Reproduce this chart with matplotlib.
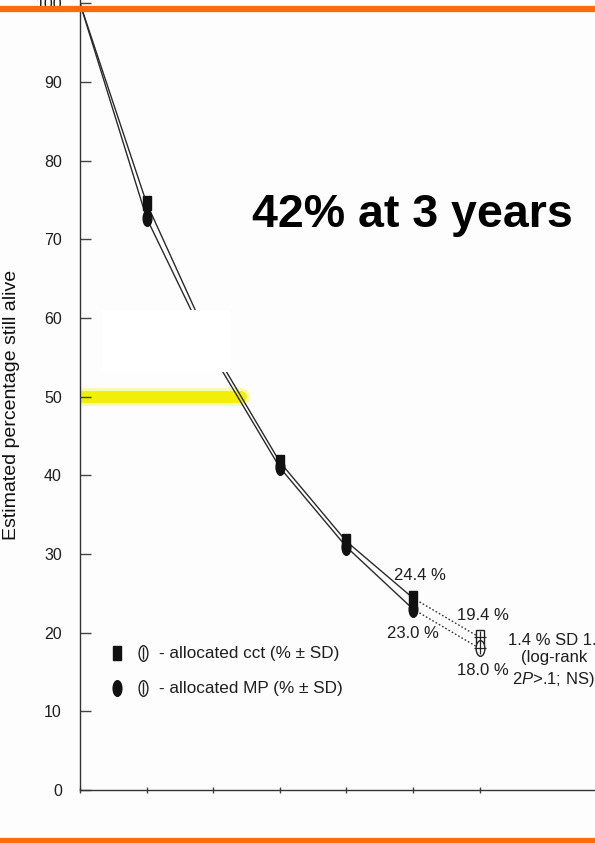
import numpy as np
import matplotlib
matplotlib.use("Agg")
import matplotlib.pyplot as plt
from matplotlib.markers import MarkerStyle
from matplotlib.transforms import Affine2D
from matplotlib.patches import Rectangle

plt.rcParams['font.family'] = ['Liberation Sans Narrow', 'Liberation Sans', 'DejaVu Sans']
plt.rcParams['mathtext.fontset'] = 'custom'
plt.rcParams['mathtext.it'] = 'Liberation Sans:italic'
plt.rcParams['mathtext.rm'] = 'Liberation Sans'

# survival at each time point (x = follow-up interval)
times = [0, 1, 2, 3, 4, 5]
cct = [100, 74.6, 56.0, 41.7, 31.6, 24.4]
mp = [100, 72.7, 55.2, 41.0, 30.9, 23.0]
# last (dotted) step
t_last = [5, 6]
cct_last = [24.4, 19.4]
mp_last = [23.0, 18.0]

yticks = [0, 10, 20, 30, 40, 50, 60, 70, 80, 90, 100]
xticks = [0, 1, 2, 3, 4, 5, 6]

ink = '#1e1e1e'
orange = '#ff6a0d'

fig = plt.figure(figsize=(5.95, 8.43), dpi=100)
fig.patch.set_facecolor('#fdfdfd')
ax = fig.add_axes([80 / 595, 53 / 843, 1 - 80 / 595, 790 / 843])
ax.set_facecolor('none')
ax.set_xlim(0, 515 / 66.6)
ax.set_ylim(0, 100.42)

for s in ['top', 'right']:
    ax.spines[s].set_visible(False)
for s in ['left', 'bottom']:
    ax.spines[s].set_color('#333333')
    ax.spines[s].set_linewidth(1.0)

ax.set_yticks(yticks)
ax.set_yticklabels([str(v) for v in yticks])
ax.tick_params(axis='y', direction='in', length=8, width=1, color='#444444',
               labelsize=11.5, labelcolor=ink, pad=13)
ax.set_xticks(xticks)
ax.tick_params(axis='x', direction='inout', length=5, width=1, color='#444444',
               labelbottom=False)

# yellow highlight at the median
ax.plot([0.05, 2.42], [50, 50], color='#f5f200', lw=13, alpha=0.3,
        solid_capstyle='round', zorder=1)
ax.plot([0.05, 2.42], [50, 50], color='#f2ee00', lw=8.5, alpha=0.95,
        solid_capstyle='round', zorder=1)

# survival curves
ax.plot(times, cct, color='#2a2a2a', lw=1.0, zorder=3)
ax.plot(times, mp, color='#2a2a2a', lw=1.0, zorder=3)
ax.plot(t_last, cct_last, color='#333333', lw=1.0, ls=(0, (1.2, 1.5)), zorder=3)
ax.plot(t_last, mp_last, color='#333333', lw=1.0, ls=(0, (1.2, 1.5)), zorder=3)

tall = MarkerStyle('o', transform=Affine2D().scale(0.7, 1.25))
box = MarkerStyle('s', transform=Affine2D().scale(0.7, 1.1))
ax.plot(times[1:], cct[1:], ls='none', marker=box, ms=9, color='#111111', zorder=4)
ax.plot(times[1:], mp[1:], ls='none', marker=tall, ms=9, color='#111111', zorder=4)

# open markers at the final point
ax.plot(t_last[1:], cct_last[1:], ls='none', marker=box, ms=9, mfc='white',
        mec='#222222', mew=1.0, zorder=4)
ax.plot(t_last[1:], mp_last[1:], ls='none', marker=tall, ms=9, mfc='white',
        mec='#222222', mew=1.0, zorder=4)
ax.plot(t_last[1:] * 2, [cct_last[1], mp_last[1]], ls='none', marker='+', ms=9,
        color='#222222', mew=0.9, zorder=5)

# white box hiding an annotation
ax.add_patch(Rectangle((0.33, 53.1), 1.92, 7.9, facecolor='white',
                       edgecolor='none', zorder=6))

# value annotations
tfs = 12
ax.text(5.11, 27.3, '24.4 %', ha='center', va='center', fontsize=tfs, color=ink)
ax.text(5.0, 19.95, '23.0 %', ha='center', va='center', fontsize=tfs, color=ink)
ax.text(6.05, 22.2, '19.4 %', ha='center', va='center', fontsize=tfs, color=ink)
ax.text(6.05, 15.25, '18.0 %', ha='center', va='center', fontsize=tfs, color=ink)
ax.text(6.43, 19.06, '1.4 % SD 1.4', ha='left', va='center', fontsize=tfs, color=ink)
ax.text(7.12, 16.8, '(log-rank', ha='center', va='center', fontsize=tfs, color=ink)
ax.text(6.49, 14.0, '2$P$>.1; NS)', ha='left', va='center', fontsize=tfs, color=ink)

# legend
lx1, lx2, ltx = (117 - 80) / 66.6, (143 - 80) / 66.6, (159 - 80) / 66.6
rows = [(790 - 653) / 7.87, (790 - 688) / 7.87]
ax.plot([lx1], [rows[0]], ls='none', marker=box, ms=9, color='#111111')
ax.plot([lx1], [rows[1]], ls='none', marker=tall, ms=9, color='#111111')
ax.plot([lx2, lx2], rows, ls='none', marker=tall, ms=9, mfc='white', mec='#222222')
ax.plot([lx2, lx2], rows, ls='none', marker='|', ms=8, color='#222222')
ax.text(ltx, rows[0], '- allocated cct (% \u00b1 SD)', ha='left', va='center',
        fontsize=12.3, color=ink)
ax.text(ltx, rows[1], '- allocated MP (% \u00b1 SD)', ha='left', va='center',
        fontsize=12.3, color=ink)

# headline
ax.text((412 - 80) / 66.6, (790 - 227) / 7.87, '42% at 3 years', ha='center',
        va='baseline', fontsize=33.5, fontweight='bold', color='black',
        family=['Liberation Sans', 'DejaVu Sans'])

fig.text(12 / 595, 1 - 405 / 843, 'Estimated percentage still alive', rotation=90,
         ha='center', va='center', fontsize=14, color='#111111')

# orange rules
fig.add_artist(plt.Line2D([0, 1], [1 - 9 / 843, 1 - 9 / 843], color=orange, lw=4.5,
                          transform=fig.transFigure))
fig.add_artist(plt.Line2D([0, 1], [1 - 841 / 843, 1 - 841 / 843], color=orange, lw=4.5,
                          transform=fig.transFigure))

fig.savefig('out.png', dpi=100)
